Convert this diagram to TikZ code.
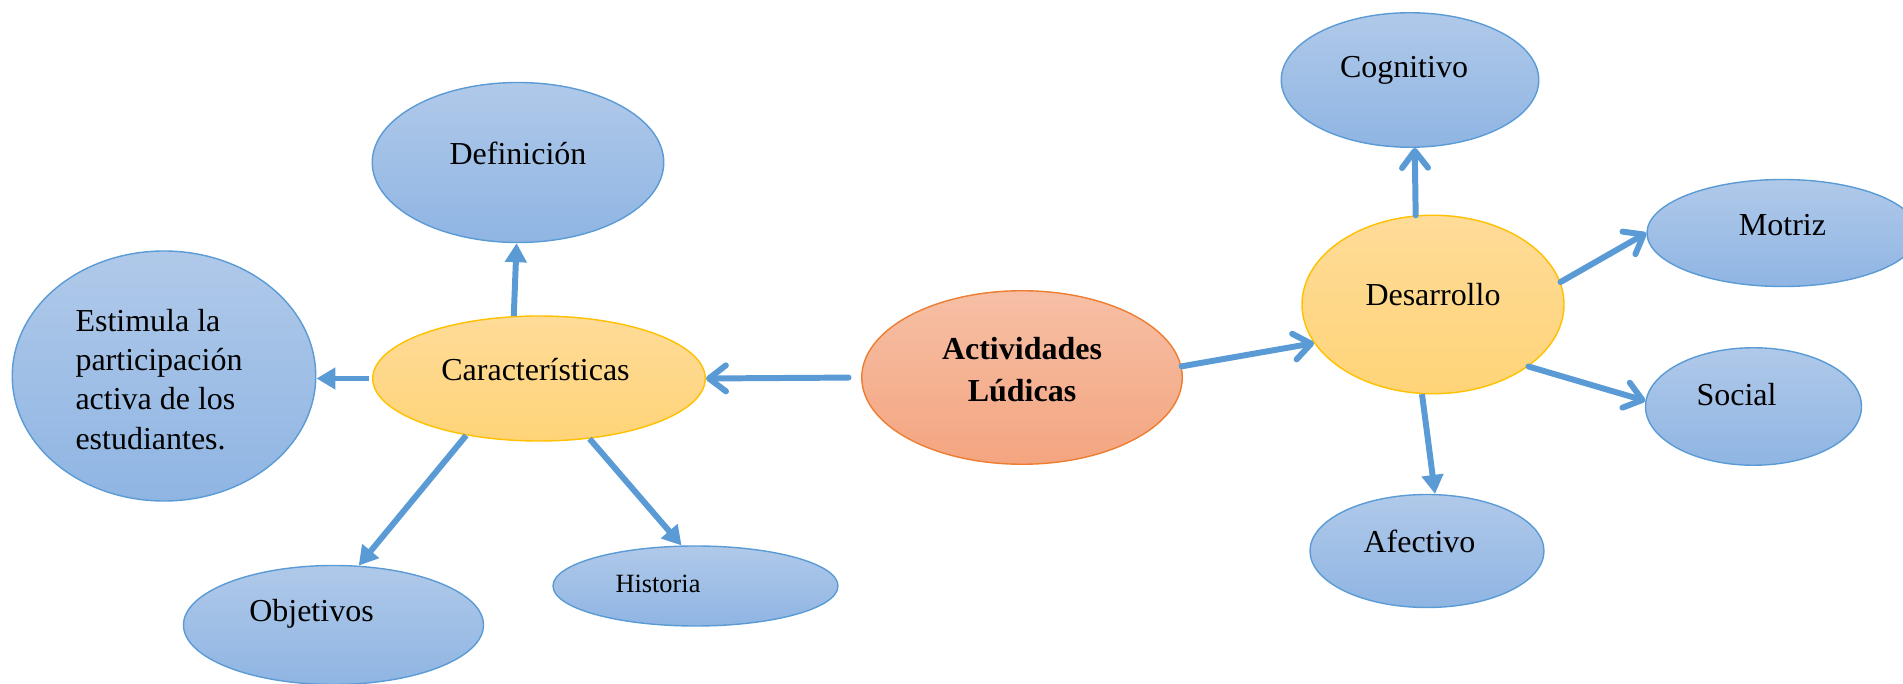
\documentclass[tikz,border=0pt]{standalone}
\usepackage{fontspec}
\setmainfont{Liberation Serif}
\usetikzlibrary{shapes.geometric}
\usetikzlibrary{arrows.meta}
\definecolor{lineblue}{RGB}{91,155,213}
\definecolor{bluetop}{RGB}{176,201,233}
\definecolor{bluebot}{RGB}{143,181,227}
\definecolor{goldline}{RGB}{255,192,0}
\definecolor{goldtop}{RGB}{254,219,152}
\definecolor{goldbot}{RGB}{255,212,120}
\definecolor{rustline}{RGB}{237,125,49}
\definecolor{rusttop}{RGB}{246,191,165}
\definecolor{rustbot}{RGB}{244,165,128}
\tikzset{
	sz/.style 2 args={minimum width=#1cm, minimum height=#2cm},
	bubble/.style={ellipse, draw=lineblue, line width=0.8pt, top color=bluetop, bottom color=bluebot, inner sep=0pt},
	keybubble/.style={bubble, draw=goldline, top color=goldtop, bottom color=goldbot},
	mainbubble/.style={bubble, draw=rustline, top color=rusttop, bottom color=rustbot},
	link/.style={draw=lineblue, line width=3.4pt},
	solidtip/.style={link, -{Triangle[length=0.38cm, width=0.42cm]}},
	opentip/.style={link, line cap=round, -{Straight Barb[round, length=0.34cm, width=0.52cm]}},
}

\begin{document}
\begin{tikzpicture}[every node/.style={font=\fontsize{18.2}{22.3}\selectfont}]
		\useasboundingbox (0,0) rectangle (38.06,13.68);
		\clip (0,0) rectangle (38.06,13.68);
		% centro
		\node[mainbubble, sz={6.41}{3.47}, label={[shift={(0,0.15)}, align=center, font=\fontsize{18.2}{24}\selectfont\bfseries]center:Actividades\\Lúdicas}] (act) at (20.44,6.13) {};
		% rama izquierda
		\node[keybubble, sz={6.65}{2.50}, label={[shift={(-0.07,0.17)}]center:Características}] (car) at (10.78,6.11) {};
		\node[bubble, sz={5.83}{3.20}, label={[shift={(0,0.19)}]center:Definición}] (def) at (10.36,10.43) {};
		\node[bubble, sz={6.07}{5.00}, label={[shift={(-0.10,-0.07)}, align=left]center:Estimula la\\participación\\activa de los\\estudiantes.}] (est) at (3.28,6.16) {};
		\node[bubble, sz={6.00}{2.38}, label={[shift={(-0.44,0.22)}]center:Objetivos}] (obj) at (6.67,1.18) {};
		\node[bubble, sz={5.70}{1.60}, label={[shift={(-0.75,0.05)}, font=\fontsize{15}{18}\selectfont]center:Historia}] (hist) at (13.91,1.96) {};
		% rama derecha
		\node[keybubble, sz={5.24}{3.57}, label={[shift={(0,0.19)}]center:Desarrollo}] (des) at (28.66,7.59) {};
		\node[bubble, sz={5.15}{2.69}, label={[shift={(-0.12,0.19)}]center:Cognitivo}] (cog) at (28.20,12.08) {};
		\node[bubble, sz={5.42}{2.14}, label={[shift={(0,0.15)}]center:Motriz}] (mot) at (35.65,9.02) {};
		\node[bubble, sz={4.32}{2.35}, label={[shift={(-0.34,0.24)}]center:Social}] (soc) at (35.07,5.55) {};
		\node[bubble, sz={4.68}{2.26}, label={[shift={(-0.15,0.19)}]center:Afectivo}] (afe) at (28.54,2.66) {};
		% flechas
		\draw[opentip, shorten <=0.25cm] (act.west) -- (car.east);
		\draw[solidtip] (car.112) -- (def.269);
		\draw[solidtip, shorten <=0.06cm] (car.west) -- (car.west -| est.east);
		\draw[solidtip] (car.218) -- (obj.67);
		\draw[solidtip] (car.310) -- (hist.109);
		\draw[opentip] (act.4) -- (des.198);
		\draw[opentip] (des.101) -- (cog.274);
		\draw[opentip] (des.10) -- (mot.west);
		\draw[opentip] (des.327) -- (soc.177);
		\draw[solidtip] (des.263) -- (afe.82);
	\end{tikzpicture}
\end{document}
